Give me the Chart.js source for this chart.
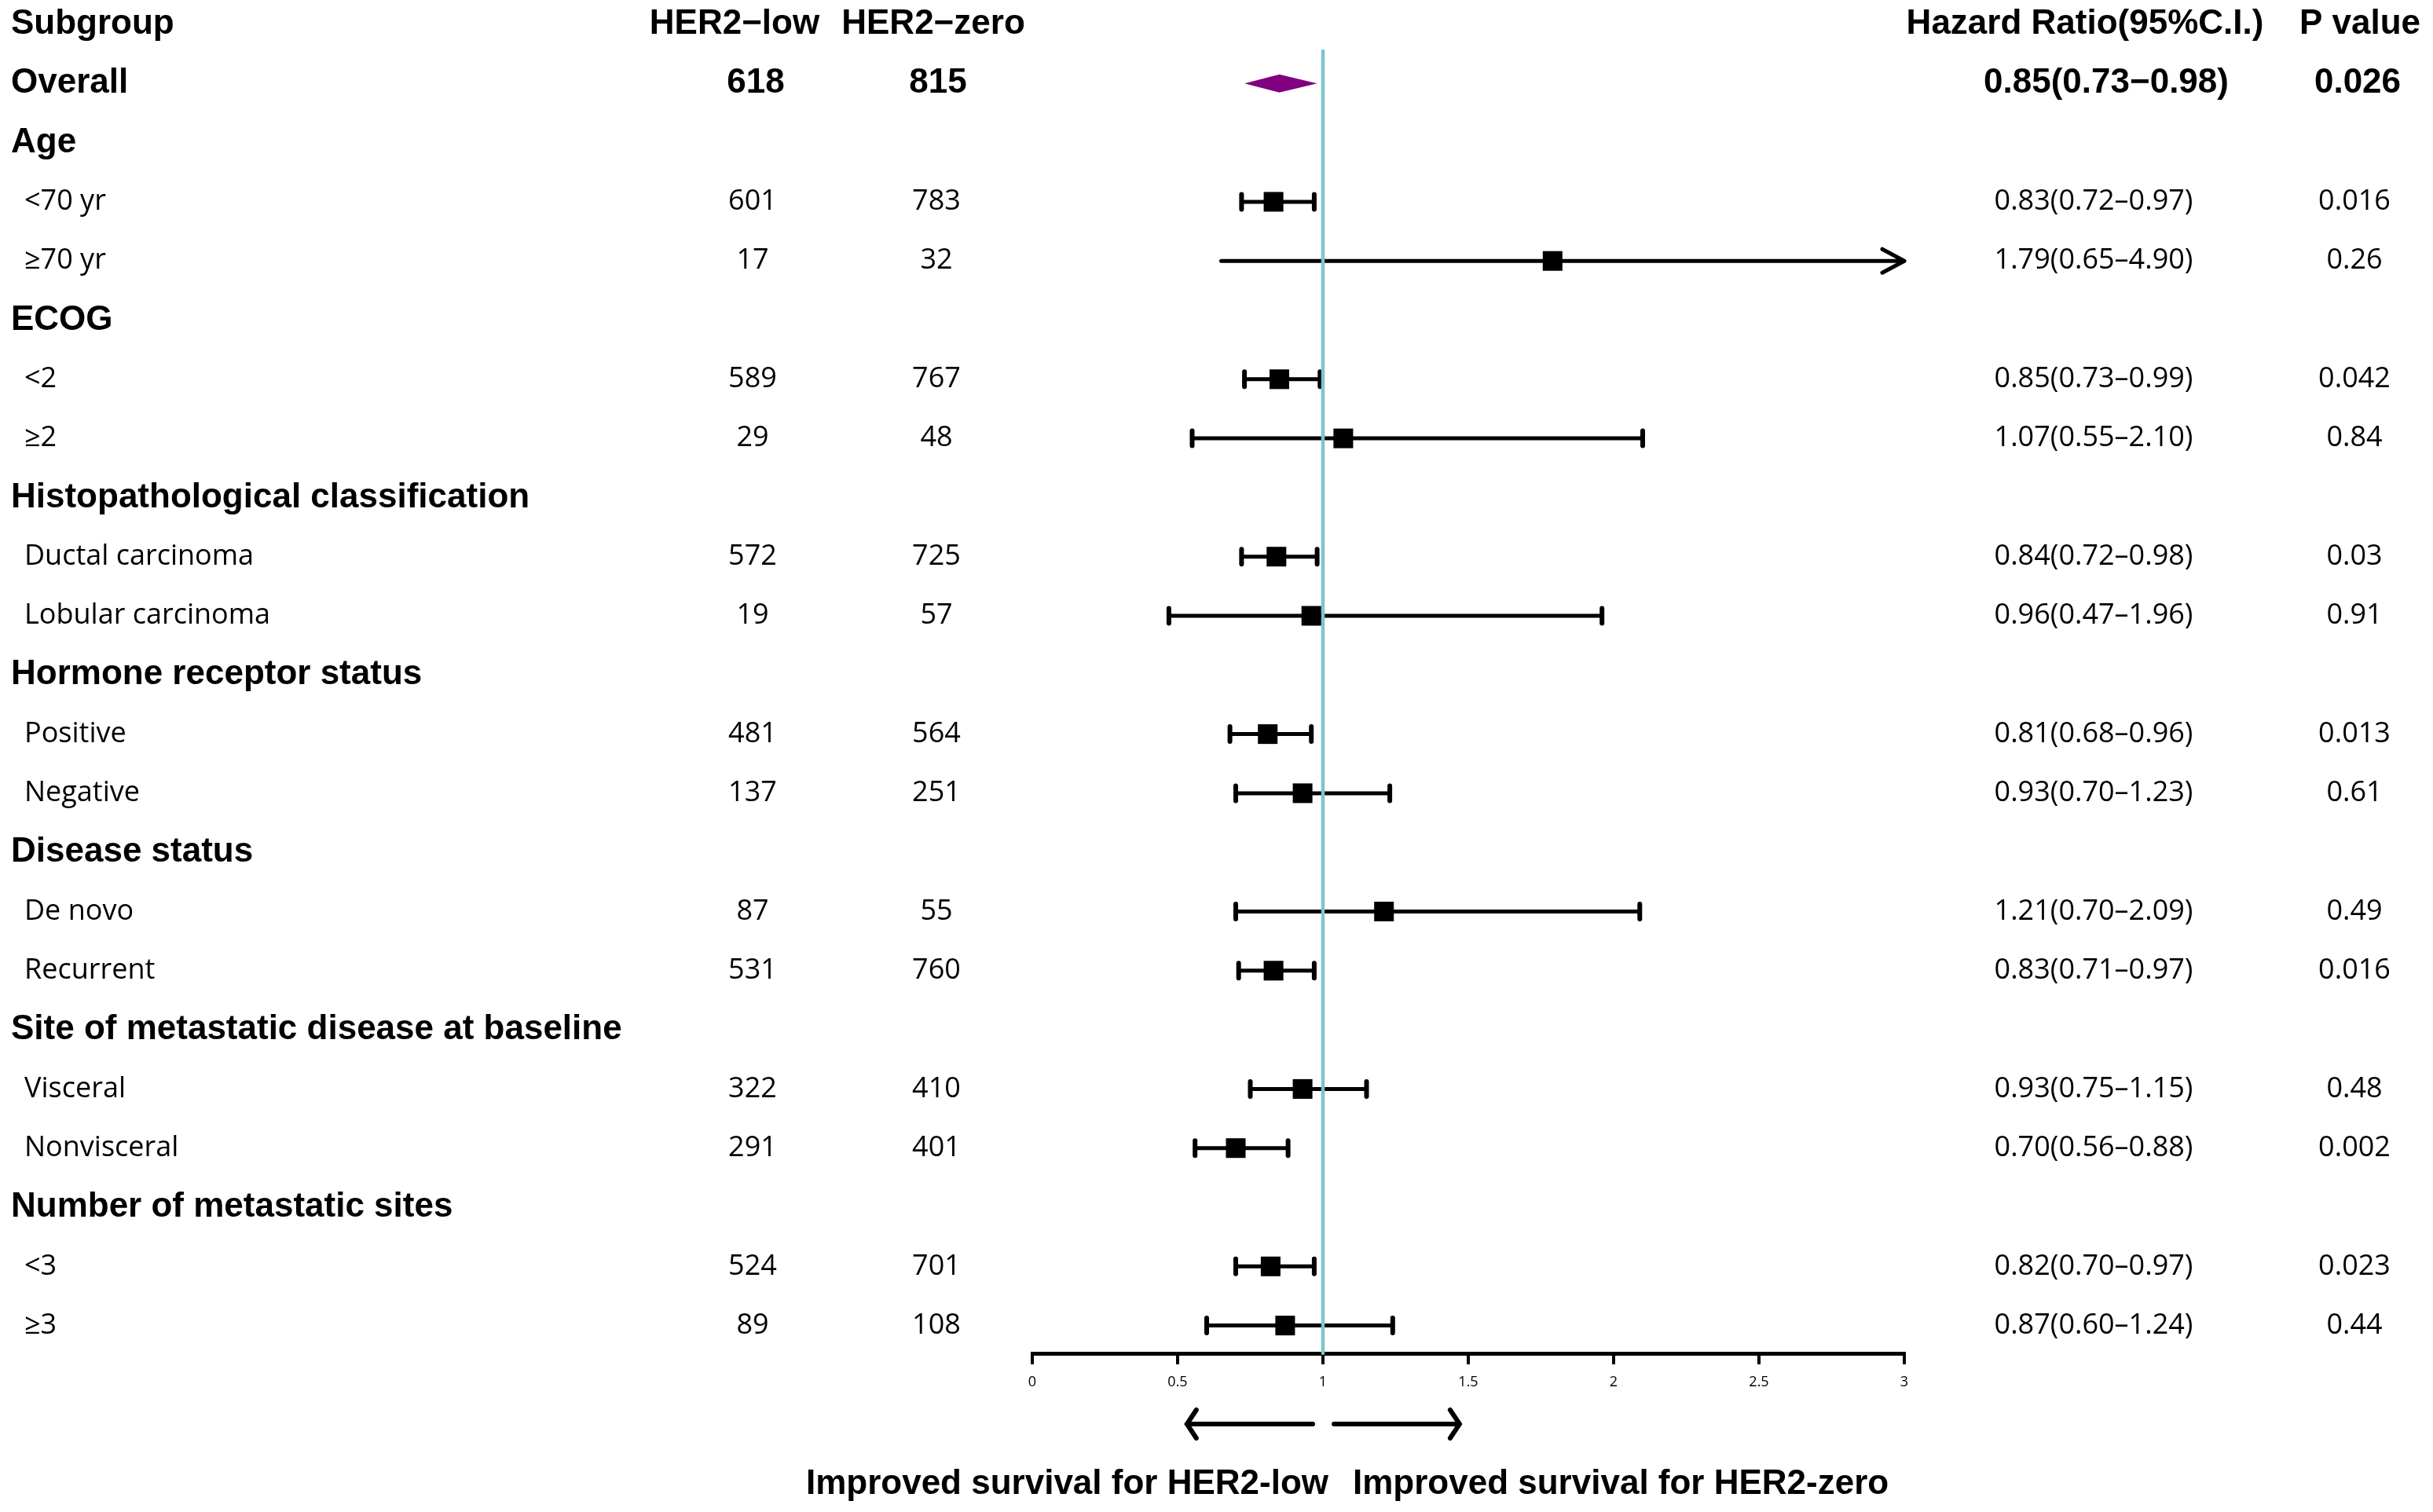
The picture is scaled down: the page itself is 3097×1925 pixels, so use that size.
<!DOCTYPE html>
<html>
<head>
<meta charset="utf-8">
<title>Forest plot HER2-low vs HER2-zero</title>
<script src="https://cdn.jsdelivr.net/npm/chart.js@4.4.1/dist/chart.umd.min.js"></script>
<style>
  html, body { margin: 0; padding: 0; background: #fff; }
  #wrap { width: 3097px; height: 1925px; position: relative; }
</style>
</head>
<body>
<div id="wrap"><canvas id="forest"></canvas></div>
<script>
// rows from top to bottom, row 0 is the column header line
const subgroups = ["Subgroup", "Overall", "Age", "<70 yr", "≥70 yr", "ECOG", "<2", "≥2",
    "Histopathological classification", "Ductal carcinoma", "Lobular carcinoma",
    "Hormone receptor status", "Positive", "Negative", "Disease status", "De novo", "Recurrent",
    "Site of metastatic disease at baseline", "Visceral", "Nonvisceral",
    "Number of metastatic sites", "<3", "≥3"];
const boldRows = [true, true, true, false, false, true, false, false, true, false, false,
    true, false, false, true, false, false, true, false, false, true, false, false];
const nLow = [null, 618, null, 601, 17, null, 589, 29, null, 572, 19, null, 481, 137,
    null, 87, 531, null, 322, 291, null, 524, 89];
const nZero = [null, 815, null, 783, 32, null, 767, 48, null, 725, 57, null, 564, 251,
    null, 55, 760, null, 410, 401, null, 701, 108];
const hr = [null, 0.85, null, 0.83, 1.79, null, 0.85, 1.07, null, 0.84, 0.96, null, 0.81, 0.93,
    null, 1.21, 0.83, null, 0.93, 0.70, null, 0.82, 0.87];
const ciLow = [null, 0.73, null, 0.72, 0.65, null, 0.73, 0.55, null, 0.72, 0.47, null, 0.68, 0.70,
    null, 0.70, 0.71, null, 0.75, 0.56, null, 0.70, 0.60];
const ciHigh = [null, 0.98, null, 0.97, 4.90, null, 0.99, 2.10, null, 0.98, 1.96, null, 0.96, 1.23,
    null, 2.09, 0.97, null, 1.15, 0.88, null, 0.97, 1.24];
const pValues = [null, "0.026", null, "0.016", "0.26", null, "0.042", "0.84", null, "0.03", "0.91",
    null, "0.013", "0.61", null, "0.49", "0.016", null, "0.48", "0.002", null, "0.023", "0.44"];
const columnHeads = ["HER2−low", "HER2−zero", "Hazard Ratio(95%C.I.)", "P value"];
const xTicks = [0, 0.5, 1, 1.5, 2, 2.5, 3];
const directionLabels = ["Improved survival for HER2-low", "Improved survival for HER2-zero"];
const overallRow = 1;

const boldFont = 'bold 44px "Liberation Sans", Arial, sans-serif';
const plainFont = '36px "Open Sans", sans-serif';

// squares for every subgroup estimate (overall is a diamond)
const puntos = [];
hr.forEach((v, i) => {
    if (v !== null && i !== overallRow) puntos.push({ x: v, y: i });
});

function textoHR(i) {
    const dash = boldRows[i] ? '−' : '–';
    return hr[i].toFixed(2) + '(' + ciLow[i].toFixed(2) + dash + ciHigh[i].toFixed(2) + ')';
}

function flecha(ctx, x0, x1, y, head, half) {
    const dir = x1 > x0 ? 1 : -1;
    ctx.beginPath();
    ctx.moveTo(x0, y);
    ctx.lineTo(x1, y);
    ctx.moveTo(x1 - dir * head, y - half);
    ctx.lineTo(x1, y);
    ctx.lineTo(x1 - dir * head, y + half);
    ctx.stroke();
}

const forestDraw = {
    id: 'forestDraw',
    beforeDatasetsDraw(chart) {
        const { ctx, chartArea, scales: { x, y } } = chart;
        const xMax = x.max;
        ctx.save();
        ctx.strokeStyle = '#000';
        ctx.lineCap = 'round';
        ctx.lineJoin = 'round';

        // confidence intervals
        hr.forEach((v, i) => {
            if (v === null || i === overallRow) return;
            const py = y.getPixelForValue(i);
            const pl = x.getPixelForValue(ciLow[i]);
            ctx.lineWidth = 5;
            if (ciHigh[i] > xMax) {
                flecha(ctx, pl, x.getPixelForValue(xMax), py, 28, 15);
                return;
            }
            const ph = x.getPixelForValue(ciHigh[i]);
            ctx.beginPath();
            ctx.moveTo(pl, py); ctx.lineTo(ph, py);
            ctx.stroke();
            ctx.lineWidth = 6;
            ctx.beginPath();
            ctx.moveTo(pl, py - 9.5); ctx.lineTo(pl, py + 9.5);
            ctx.moveTo(ph, py - 9.5); ctx.lineTo(ph, py + 9.5);
            ctx.stroke();
        });

        // overall diamond
        const oy = y.getPixelForValue(overallRow);
        ctx.fillStyle = '#800080';
        ctx.beginPath();
        ctx.moveTo(x.getPixelForValue(ciLow[overallRow]), oy);
        ctx.lineTo(x.getPixelForValue(hr[overallRow]), oy - 11.5);
        ctx.lineTo(x.getPixelForValue(ciHigh[overallRow]), oy);
        ctx.lineTo(x.getPixelForValue(hr[overallRow]), oy + 11.5);
        ctx.closePath();
        ctx.fill();

        // line of no effect
        const p1 = x.getPixelForValue(1);
        ctx.strokeStyle = '#7cc5cd';
        ctx.lineWidth = 4.5;
        ctx.beginPath();
        ctx.moveTo(p1, y.getPixelForValue(overallRow - 0.55));
        ctx.lineTo(p1, chartArea.bottom);
        ctx.stroke();
        ctx.restore();
    },
    afterDraw(chart) {
        const { ctx, chartArea, scales: { x, y } } = chart;
        ctx.save();
        ctx.fillStyle = '#000';
        ctx.textBaseline = 'middle';

        // header line
        const hy = y.getPixelForValue(0);
        ctx.font = boldFont;
        ctx.textAlign = 'left';
        ctx.fillText(subgroups[0], 14, hy);
        ctx.textAlign = 'center';
        ctx.fillText(columnHeads[0], 935, hy);
        ctx.fillText(columnHeads[1], 1188, hy);
        ctx.fillText(columnHeads[2], 2654, hy);
        ctx.fillText(columnHeads[3], 3004, hy);

        for (let i = 1; i < subgroups.length; i++) {
            const py = y.getPixelForValue(i);
            const bold = boldRows[i];
            ctx.font = bold ? boldFont : plainFont;
            ctx.textAlign = 'left';
            ctx.fillText(subgroups[i], bold ? 14 : 31, py);
            if (hr[i] === null) continue;
            ctx.textAlign = 'center';
            ctx.fillText(String(nLow[i]), bold ? 962 : 958, py);
            ctx.fillText(String(nZero[i]), bold ? 1194 : 1192, py);
            ctx.fillText(textoHR(i), bold ? 2681 : 2665, py);
            ctx.fillText(pValues[i], bold ? 3001 : 2997, py);
        }

        // direction arrows under the axis
        const ay = chartArea.bottom + 90;
        ctx.strokeStyle = '#000';
        ctx.lineWidth = 6;
        ctx.lineCap = 'round';
        flecha(ctx, x.getPixelForValue(0.965), x.getPixelForValue(0.532), ay, 12, 18);
        flecha(ctx, x.getPixelForValue(1.038), x.getPixelForValue(1.47), ay, 12, 18);

        ctx.font = boldFont;
        const ly = chartArea.bottom + 167;
        ctx.textAlign = 'right';
        ctx.fillText(directionLabels[0], x.getPixelForValue(1) + 7, ly);
        ctx.textAlign = 'left';
        ctx.fillText(directionLabels[1], x.getPixelForValue(1) + 38, ly);
        ctx.restore();
    }
};

new Chart(document.getElementById('forest'), {
    type: 'scatter',
    data: {
        datasets: [{
            data: puntos,
            pointStyle: 'rect',
            pointRadius: 17.7,
            pointHoverRadius: 17.7,
            backgroundColor: '#000',
            borderColor: '#000',
            borderWidth: 0
        }]
    },
    options: {
        responsive: true,
        maintainAspectRatio: false,
        devicePixelRatio: 1,
        animation: false,
        events: [],
        layout: { autoPadding: false, padding: { left: 1314, right: 673, top: 0, bottom: 0 } },
        plugins: { legend: { display: false }, tooltip: { enabled: false } },
        scales: {
            x: {
                type: 'linear',
                min: 0,
                max: 3,
                afterBuildTicks: s => { s.ticks = xTicks.map(v => ({ value: v })); },
                afterFit: s => { s.height = 202; },
                border: { display: true, color: '#000', width: 5 },
                grid: { drawOnChartArea: false, drawTicks: true, tickLength: 14, lineWidth: 4, color: '#000' },
                ticks: {
                    color: '#000',
                    padding: 12,
                    maxRotation: 0,
                    font: { family: '"Open Sans", sans-serif', size: 18 },
                    callback: v => String(v)
                }
            },
            y: {
                type: 'linear',
                display: false,
                reverse: true,
                min: -0.412,
                max: 22.47
            }
        }
    },
    plugins: [forestDraw]
});
</script>
</body>
</html>
